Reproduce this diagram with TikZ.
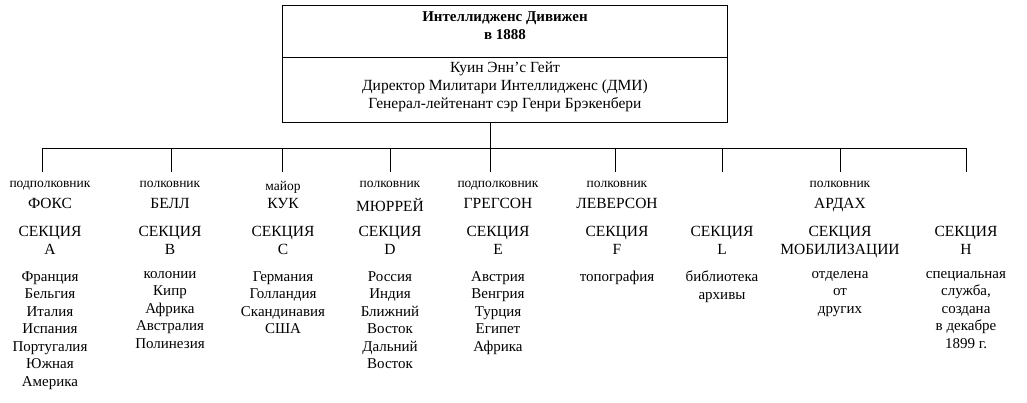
\documentclass[tikz,border=0pt]{standalone}
\usepackage{fontspec}
\setmainfont{Liberation Serif}
% one column: index, drop x, text x, rank, name, section, list
\newcommand{\seccol}[7]{%
  \coordinate (d#1) at (#2,148);
  \coordinate (e#1) at (#2,172);
  \draw (d#1) -- (e#1);
  \node[rank] (rank#1) at (#3,181) {#4};
  \node[txt] (name#1) at (#3,198) {#5};
  \node[txt] (sec#1) at (#3,226) {#6};
  \node[listtxt] (list#1) at (#3,271) {#7};
}
\begin{document}
\begin{tikzpicture}[x=1pt,y=-1pt,
    txt/.style={font=\fontsize{15.5}{18}\selectfont, align=center, inner sep=0pt, anchor=north},
    listtxt/.style={txt, font=\fontsize{15}{17.5}\selectfont},
    rank/.style={font=\fontsize{13.5}{14}\selectfont, inner sep=0pt, anchor=north}]
    \useasboundingbox (0,0) rectangle (1027,402);

    % top box
    \draw (282,5) rectangle (727,122);
    \draw (282,57) -- (727,57);
    \node[txt, font=\bfseries\fontsize{15}{18}\selectfont] (div) at (505,11) {Интеллидженс Дивижен\\в 1888};
    \node[txt] (dmi) at (505,62) {Куин Энн’с Гейт\\Директор Милитари Интеллидженс (ДМИ)\\Генерал-лейтенант сэр Генри Брэкенбери};

    % trunk and bar
    \coordinate (top) at (490,122);
    \coordinate (bar) at (490,148);
    \draw (top) -- (bar);
    \draw (42,148) -- (966,148);

    % sections
    \seccol{1}{42}{50}{подполковник}{ФОКС}{СЕКЦИЯ\\A}{Франция\\Бельгия\\Италия\\Испания\\Португалия\\Южная\\Америка}
    \seccol{2}{171}{170}{полковник}{БЕЛЛ}{СЕКЦИЯ\\B}{колонии\\Кипр\\Африка\\Австралия\\Полинезия}
    \seccol{3}{282}{283}{майор}{КУК}{СЕКЦИЯ\\C}{Германия\\Голландия\\Скандинавия\\США}
    \seccol{4}{390}{390}{полковник}{МЮРРЕЙ}{СЕКЦИЯ\\D}{Россия\\Индия\\Ближний\\Восток\\Дальний\\Восток}
    \seccol{5}{490}{498}{подполковник}{ГРЕГСОН}{СЕКЦИЯ\\E}{Австрия\\Венгрия\\Турция\\Египет\\Африка}
    \seccol{6}{615}{617}{полковник}{ЛЕВЕРСОН}{СЕКЦИЯ\\F}{топография}
    \seccol{7}{722}{722}{}{}{СЕКЦИЯ\\L}{библиотека\\архивы}
    \seccol{8}{840}{840}{полковник}{АРДАХ}{СЕКЦИЯ\\МОБИЛИЗАЦИИ}{отделена\\от\\других}
    \seccol{9}{966}{966}{}{}{СЕКЦИЯ\\H}{специальная\\служба,\\создана\\в декабре\\1899 г.}
\end{tikzpicture}
\end{document}
